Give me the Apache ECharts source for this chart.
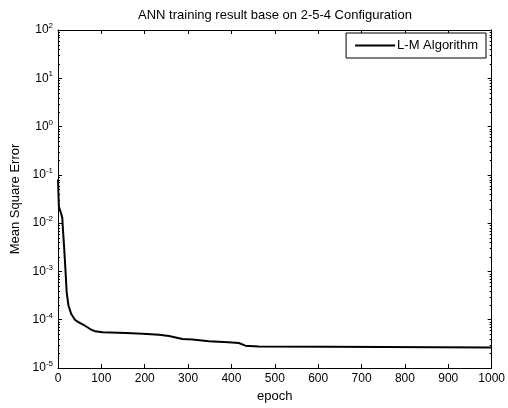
<!DOCTYPE html>
<html>
<head>
<meta charset="utf-8">
<script src="https://cdn.jsdelivr.net/npm/echarts@6/dist/echarts.min.js"></script>
<style>html,body{margin:0;padding:0;background:#fff}#c{width:508px;height:408px}</style>
</head>
<body>
<div id="c"></div>
<script>
var titleText = 'ANN training result base on 2-5-4 Configuration';
var seriesName = 'L-M Algorithm';
var xName = 'epoch';
var yName = 'Mean Square Error';
var epochs = [0, 2, 7, 10, 11, 14, 17.5, 20, 24, 30, 39, 46, 62, 77, 85, 103, 157, 195, 233, 256, 287, 310, 348, 393, 417, 432, 462, 622, 626, 1000];
var mse = [0.08, 0.022, 0.016, 0.0126, 0.0085, 0.0033, 0.00096, 3.7e-4, 2.0e-4, 1.35e-4, 1.0e-4, 9e-5, 7.5e-5, 6.2e-5, 5.8e-5, 5.5e-5, 5.3e-5, 5.1e-5, 4.9e-5, 4.6e-5, 4.0e-5, 3.9e-5, 3.6e-5, 3.4e-5, 3.3e-5, 2.9e-5, 2.8e-5, 2.75e-5, 2.65e-5, 2.65e-5];
var decadeExps = [-5, -4, -3, -2, -1, 0, 1];
var minorMult = [2, 3, 4, 5, 6, 7, 8, 9];

var FONT = 'Liberation Sans, Arial, sans-serif';
var pts = epochs.map(function (e, i) { return [e, mse[i]]; });
var minorVals = [];
decadeExps.forEach(function (d) { minorMult.forEach(function (m) { minorVals.push([0, m * Math.pow(10, d)]); }); });

var chart = echarts.init(document.getElementById('c'), null, {renderer: 'canvas'});
var axisLine = {show: true, onZero: false, lineStyle: {color: '#000', width: 1}};
var tick = {show: true, inside: true, length: 4, lineStyle: {color: '#000'}};
chart.setOption({
  animation: false,
  backgroundColor: '#fff',
  title: {
    text: titleText, left: 275, top: 9, textAlign: 'center', padding: 0,
    textStyle: {fontFamily: FONT, fontSize: 13, fontWeight: 'normal', color: '#000'}
  },
  legend: {
    right: 22, top: 33, orient: 'vertical',
    data: [{name: seriesName, icon: 'rect'}],
    itemWidth: 40, itemHeight: 2, itemGap: 0,
    padding: [6, 8, 6, 9],
    borderColor: '#000', borderWidth: 1, backgroundColor: '#fff',
    textStyle: {fontFamily: FONT, fontSize: 13, color: '#000', padding: [0, 0, 0, -3]}
  },
  grid: {left: 58, right: 13, top: 30, bottom: 34, containLabel: false},
  xAxis: [{
    type: 'value', min: 0, max: 1000, interval: 100,
    name: xName, nameLocation: 'middle', nameGap: 22,
    nameTextStyle: {fontFamily: FONT, fontSize: 13, color: '#000'},
    axisLine: axisLine, splitLine: {show: false}, axisTick: tick,
    axisLabel: {fontFamily: FONT, fontSize: 12, color: '#000', margin: 5, showMinLabel: true, showMaxLabel: true,
      formatter: function (v) { return String(v); }}
  }, {
    type: 'value', min: 0, max: 1000, interval: 100, position: 'top',
    axisLine: axisLine, splitLine: {show: false}, axisTick: tick,
    axisLabel: {show: false}
  }],
  yAxis: [{
    type: 'log', logBase: 10, min: 1e-5, max: 100, interval: 1, position: 'left',
    name: yName, nameLocation: 'middle', nameGap: 35,
    nameTextStyle: {fontFamily: FONT, fontSize: 13, color: '#000'},
    axisLine: axisLine, splitLine: {show: false}, axisTick: tick,
    axisLabel: {
      fontFamily: FONT, fontSize: 12, color: '#000', margin: 5,
      formatter: function (v) { return '10{s|' + Math.round(Math.log10(v)) + '}'; },
      rich: {s: {fontFamily: FONT, fontSize: 8, color: '#000', verticalAlign: 'top', padding: [0, 0, 8, 0]}}
    }
  }, {
    type: 'log', logBase: 10, min: 1e-5, max: 100, interval: 1, position: 'right',
    axisLine: axisLine, splitLine: {show: false}, axisTick: tick,
    axisLabel: {show: false}
  }],
  series: [{
    name: seriesName, type: 'line', data: pts, showSymbol: false, symbol: 'none',
    lineStyle: {color: '#000', width: 2}, itemStyle: {color: '#000'}, z: 3
  }, {
    type: 'custom', data: minorVals, silent: true, clip: false, z: 4,
    renderItem: function (params, api) {
      var p = api.coord([0, api.value(1)]);
      var q = api.coord([1000, api.value(1)]);
      var st = {stroke: '#000', lineWidth: 1};
      var y = Math.round(p[1]) + 0.5;
      return {type: 'group', children: [
        {type: 'line', shape: {x1: p[0], y1: y, x2: p[0] + 2, y2: y}, style: st},
        {type: 'line', shape: {x1: q[0], y1: y, x2: q[0] - 2, y2: y}, style: st}
      ]};
    }
  }]
});
</script>
</body>
</html>
